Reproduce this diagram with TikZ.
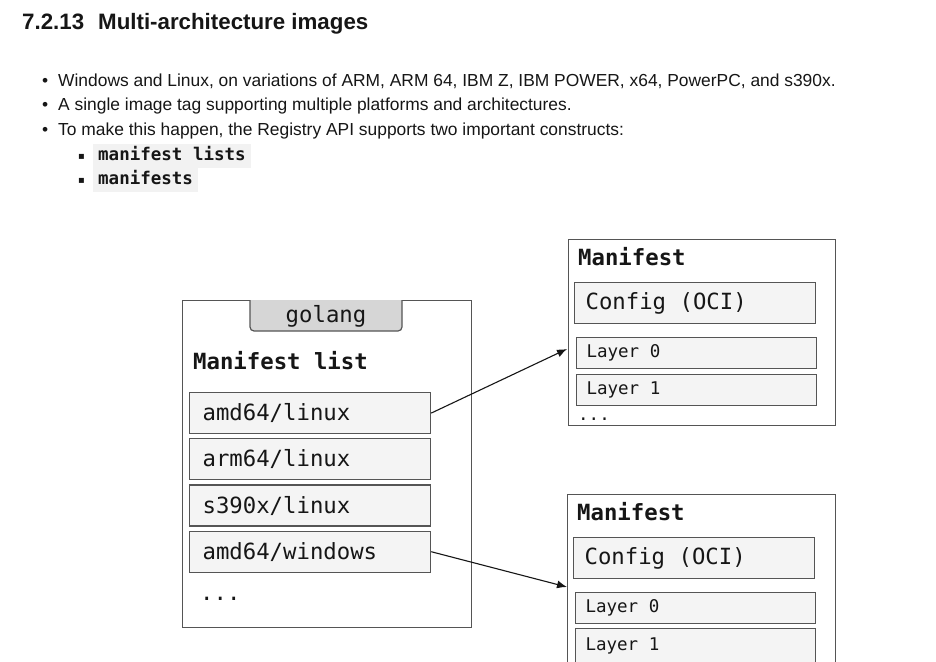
\documentclass[tikz,border=0pt]{standalone}
\usepackage{fontspec}
\setmainfont{Liberation Sans}
\newfontfamily\monofont{DejaVu Sans Mono}
\newfontfamily\symfont{DejaVu Sans}
\usetikzlibrary{positioning,arrows.meta}
\definecolor{boxline}{HTML}{555555}
\definecolor{boxfill}{HTML}{F4F4F4}
\definecolor{tabfill}{HTML}{D6D6D6}
\definecolor{codebg}{HTML}{F2F2F2}
\definecolor{ink}{HTML}{161616}
\newcommand{\bigmono}{\monofont\fontsize{22.3}{26}\selectfont}
\newcommand{\smallmono}{\monofont\fontsize{17.5}{20}\selectfont}
\tikzset{
	txt/.style={anchor=base west, inner sep=0pt, text=ink, font=\fontsize{17.4}{20}\selectfont},
	sq/.style={txt, font=\symfont\fontsize{10}{12}\selectfont},
	code/.style={anchor=base west, fill=codebg, inner xsep=5pt, inner ysep=3.5pt, text height=13pt, text depth=4pt, text=ink, font=\smallmono\bfseries},
	outer/.style={draw=boxline, line width=1.2pt, anchor=north west, inner sep=0pt},
	item/.style={draw=boxline, fill=boxfill, line width=1.2pt, anchor=north west, minimum height=41pt, inner xsep=13pt, inner ysep=0pt, text width=215pt, align=flush left, text=ink, font=\bigmono},
	cfg/.style={item, inner xsep=11pt, text width=219pt},
	layer/.style={item, minimum height=31pt, inner xsep=10pt, text width=220pt, font=\smallmono},
	conn/.style={-{Latex[length=10pt,width=8pt]}, line width=1.1pt, draw=ink}
}
\begin{document}
\begin{tikzpicture}[x=1pt,y=-1pt]
	\clip (0,0) rectangle (936,661);
	\fill[white] (0,0) rectangle (936,661);
	% text above the picture
	\node[txt, font=\fontsize{22.3}{26}\selectfont\bfseries] (title) at (22,30) {7.2.13\hspace{14pt}Multi-architecture images};
	\node[txt] (dotA) at (42,86) {\textbullet};
	\node[txt] (lineA) at (58,86) {Windows and Linux, on variations of ARM, ARM 64, IBM Z, IBM POWER, x64, PowerPC, and s390x.};
	\node[txt] (dotB) at (42,110) {\textbullet};
	\node[txt] (lineB) at (58,110) {A single image tag supporting multiple platforms and architectures.};
	\node[txt] (dotC) at (42,135) {\textbullet};
	\node[txt] (lineC) at (58,135) {To make this happen, the Registry API supports two important constructs:};
	\node[sq] (sqA) at (78,159) {▪};
	\node[code] (lists) at (93,160) {manifest lists};
	\node[sq] (sqB) at (78,183) {▪};
	\node[code] (mans) at (93,184) {manifests};

	% manifest list
	\node[outer, minimum width=289pt, minimum height=327pt] (mlist) at (182,300) {};
	\fill[tabfill, rounded corners=4pt] (250,300) -- (250,331) -- (402,331) -- (402,300);
	\draw[boxline, line width=1.2pt, rounded corners=4pt] (250,300) -- (250,331) -- (402,331) -- (402,300);
	\node[text=ink, font=\bigmono] (tag) at (326,316) {golang};
	\node[txt, font=\bigmono\bfseries] (mltitle) at (193,369) {Manifest list};
	\node[item] (amdl) at (189,392) {amd64/linux};
	\node[item, below=4pt of amdl] (arml) {arm64/linux};
	\node[item, below=4pt of arml] (s390l) {s390x/linux};
	\node[item, below=4pt of s390l] (amdw) {amd64/windows};
	\node[txt, font=\bigmono] (mldots) at (200,600) {...};

	% first manifest
	\node[outer, minimum width=267pt, minimum height=186pt] (mfa) at (568,239) {};
	\node[txt, font=\bigmono\bfseries] (mfatitle) at (578,265) {Manifest};
	\node[cfg] (cfgA) at (574,282) {Config (OCI)};
	\node[layer] (layA0) at (576,337) {Layer 0};
	\node[layer, below=5pt of layA0] (layA1) {Layer 1};
	\node[txt, font=\smallmono] (mfadots) at (578,420) {...};

	% second manifest (runs off the bottom)
	\node[outer, minimum width=268pt, minimum height=200pt] (mfb) at (567,494) {};
	\node[txt, font=\bigmono\bfseries] (mfbtitle) at (577,520) {Manifest};
	\node[cfg] (cfgB) at (573,537) {Config (OCI)};
	\node[layer] (layB0) at (575,592) {Layer 0};
	\node[layer, minimum height=45pt, below=4pt of layB0, text depth=14pt] (layB1) {Layer 1};

	% connectors
	\coordinate (tipA) at (567,349);
	\coordinate (tipB) at (567,587);
	\draw[conn] (amdl.east) -- (tipA);
	\draw[conn] (amdw.east) -- (tipB);
\end{tikzpicture}
\end{document}
